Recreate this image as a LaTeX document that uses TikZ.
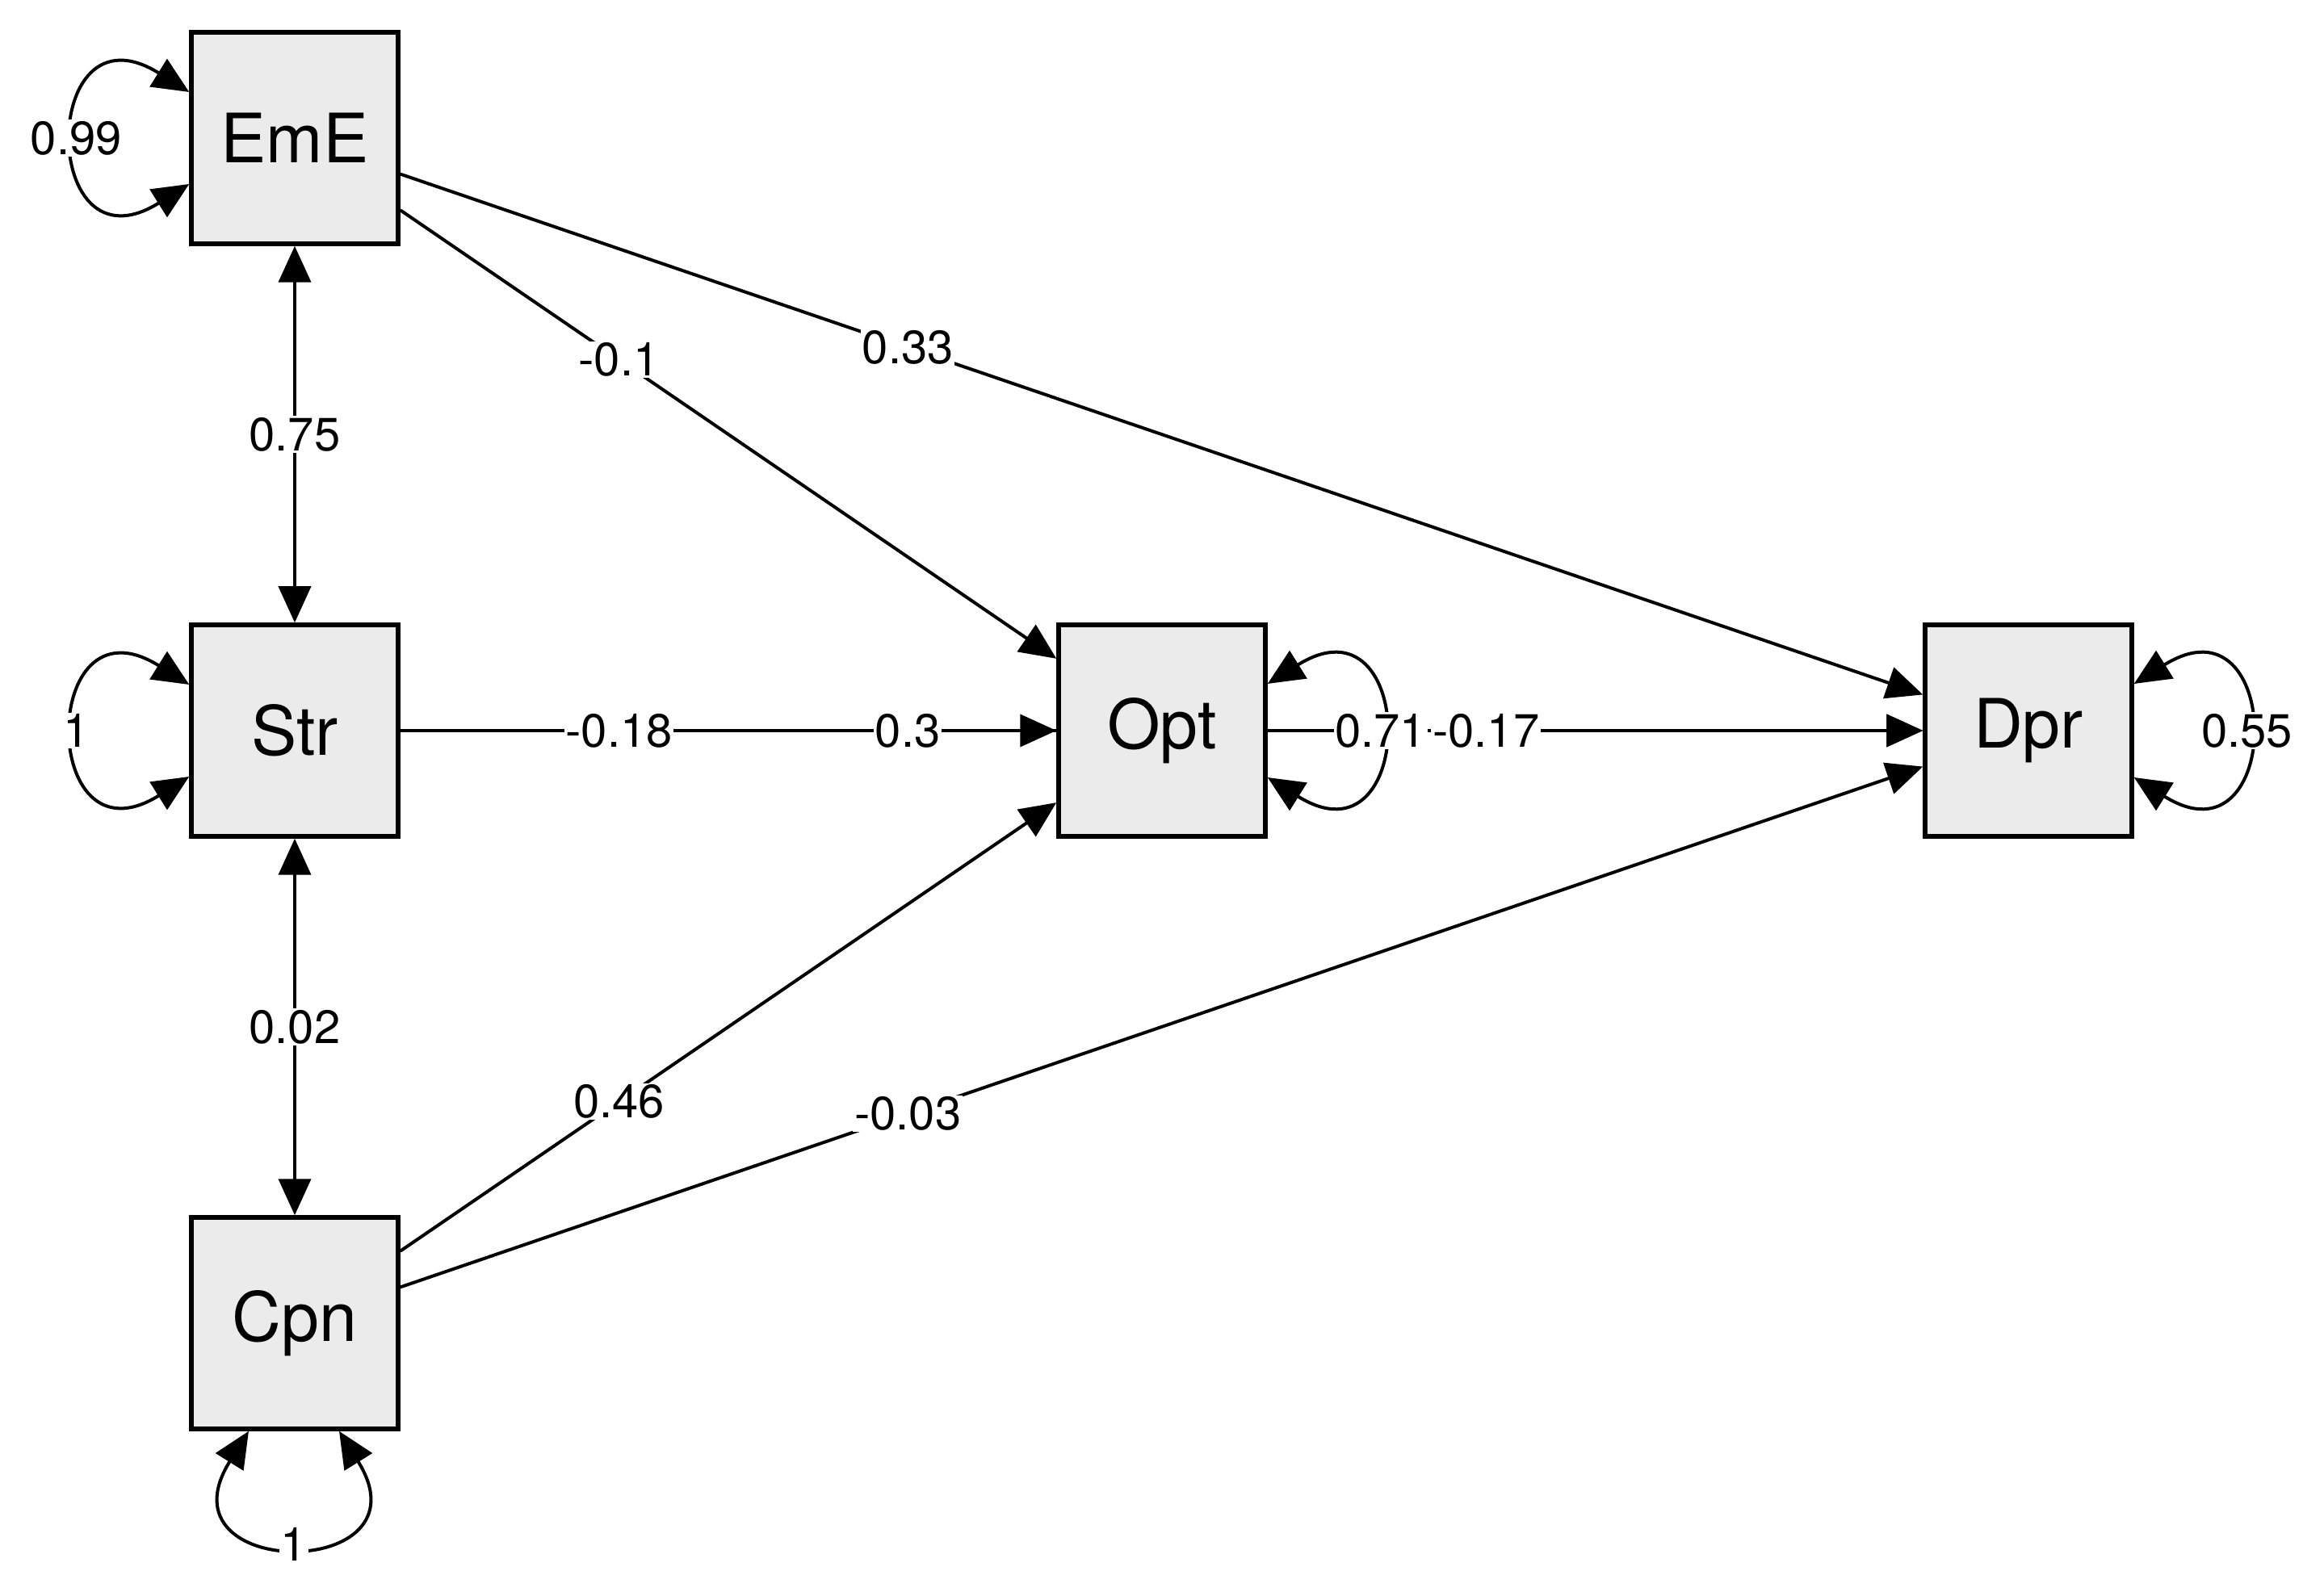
\documentclass[tikz,border=0pt]{standalone}
\usepackage{fontspec}
\setsansfont{TeX Gyre Heros}
\usepackage{tikz}
\usetikzlibrary{arrows.meta,backgrounds}
\definecolor{boxgray}{HTML}{EBEBEB}
\tikzset{manifest/.style={shape=rectangle, draw, fill=boxgray, line width=0.055cm, minimum width=2.56cm, minimum height=2.62cm, inner sep=0pt, font=\sffamily\fontsize{24}{28}\selectfont}}
\tikzset{coef/.style={fill=white, inner sep=0.5pt, font=\sffamily\fontsize{16.5}{19}\selectfont}}
\tikzset{regr/.style={line width=0.04cm, -{Triangle[length=4.5mm,width=4mm]}}}
\tikzset{cov/.style={line width=0.04cm, {Triangle[length=4.5mm,width=4mm]}-{Triangle[length=4.5mm,width=4mm]}}}

\begin{document}
\begin{tikzpicture}
\useasboundingbox (0,0) rectangle (28.78,19.71);
\node[manifest] (EmE) at (3.65,18.00) {EmE};
\node[manifest] (Str) at (3.65,10.66) {Str};
\node[manifest] (Cpn) at (3.65,3.32) {Cpn};
\node[manifest] (Opt) at (14.39,10.66) {Opt};
\node[manifest] (Dpr) at (25.12,10.66) {Dpr};
% Str -> Dpr runs behind Opt
\begin{scope}[on background layer]
\draw[regr] (Str) -- (Dpr);
\end{scope}
\draw[regr] (EmE) -- node[coef,pos=1/3] {-0.1} (Opt);
\draw[regr] (EmE) -- node[coef,pos=1/3] {0.33} (Dpr);
\draw[regr] (Str) -- node[coef,pos=1/3] {-0.18} (Opt);
\path (Str) -- node[coef,pos=1/3] {0.3} (Dpr);
\draw[regr] (Cpn) -- node[coef,pos=1/3] {0.46} (Opt);
\draw[regr] (Cpn) -- node[coef,pos=1/3] {-0.03} (Dpr);
\draw[regr] (Opt) -- node[coef,pos=1/3] {-0.17} (Dpr);
\draw[cov] (EmE) -- node[coef] {0.75} (Str);
\draw[cov] (Str) -- node[coef] {0.02} (Cpn);
% variances
\draw[cov] ([yshift=5.7mm]EmE.west) .. controls +(148:2.2) and +(212:2.2) .. node[coef] {0.99} ([yshift=-5.7mm]EmE.west);
\draw[cov] ([yshift=5.7mm]Str.west) .. controls +(148:2.2) and +(212:2.2) .. node[coef] {1} ([yshift=-5.7mm]Str.west);
\draw[cov] ([xshift=-5.7mm]Cpn.south) .. controls +(238:2.2) and +(302:2.2) .. node[coef] {1} ([xshift=5.5mm]Cpn.south);
\draw[cov] ([yshift=5.8mm]Opt.east) .. controls +(32:2.2) and +(-32:2.2) .. node[coef] {0.71} ([yshift=-5.8mm]Opt.east);
\draw[cov] ([yshift=5.8mm]Dpr.east) .. controls +(32:2.2) and +(-32:2.2) .. node[coef] {0.55} ([yshift=-5.8mm]Dpr.east);
\end{tikzpicture}
\end{document}
